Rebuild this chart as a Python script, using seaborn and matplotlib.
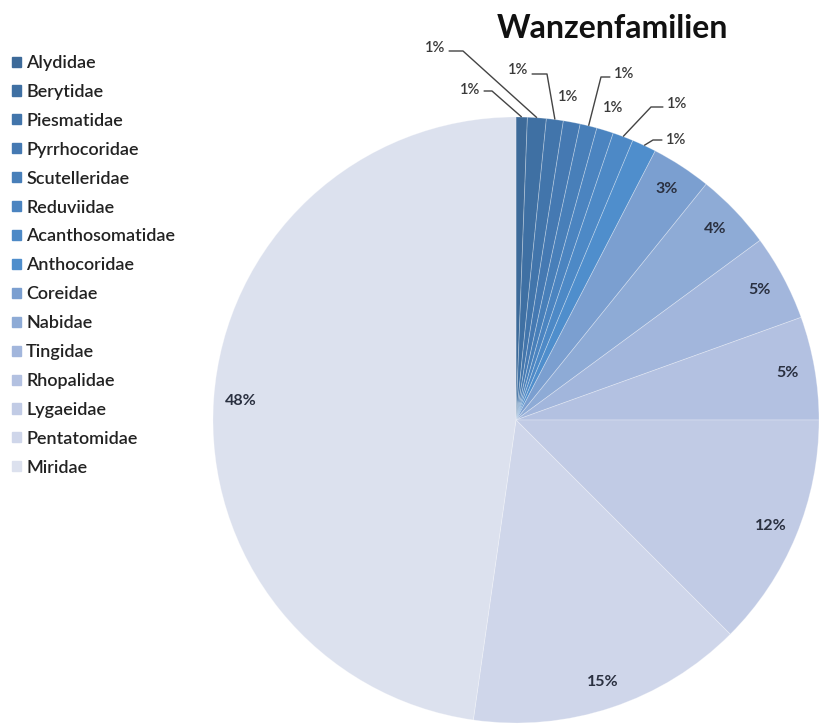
import matplotlib
matplotlib.use("Agg")
import matplotlib.pyplot as plt
import seaborn as sns
import numpy as np

families = ["Alydidae", "Berytidae", "Piesmatidae", "Pyrrhocoridae", "Scutelleridae",
            "Reduviidae", "Acanthosomatidae", "Anthocoridae", "Coreidae", "Nabidae",
            "Tingidae", "Rhopalidae", "Lygaeidae", "Pentatomidae", "Miridae"]
shares = [0.6, 1.0, 0.9, 0.9, 0.9, 0.9, 1.1, 1.3, 3.2, 4.1, 4.6, 5.5, 12.5, 14.75, 47.75]
colors = ["#3d6a99", "#3f70a3", "#4275ab", "#4579b2", "#487fb9", "#4b84c0", "#4d89c6",
          "#4f8ecc", "#7b9fd0", "#8eabd6", "#a2b6dc", "#b3c1e1", "#c1cbe5", "#cfd6ea", "#dce1ee"]
pct_labels = ["1%", "1%", "1%", "1%", "1%", "1%", "1%", "1%", "3%", "4%", "5%", "5%", "12%", "15%", "48%"]

# outside label placements (pixels) for the small slices; None -> no leader
outside_text_px = [(470, 90), (435, 48), (518, 70), (568, 97), (624, 74), (613, 108), (677, 104), (676, 140)]
leader_elbow_px = [(492, 91), (463, 51), (547, 74), None, (601, 77), None, (651, 107), (653, 140)]

sns.set_theme(style="white")
plt.rcParams['font.family'] = ['Lato', 'DejaVu Sans']

W, H = 819, 724
fig = plt.figure(figsize=(W / 100, H / 100), dpi=100)
cx, cy, R = 516, 420, 303
ax = fig.add_axes([(cx - R) / W, (H - cy - R) / H, 2 * R / W, 2 * R / H])

wedges, _ = ax.pie(shares, colors=colors, startangle=90, counterclock=False,
                   radius=1, wedgeprops=dict(edgecolor=(1, 1, 1, 0.3), linewidth=0.6))
ax.set_xlim(-1, 1)
ax.set_ylim(-1, 1)
ax.set_aspect("equal")
ax.axis("off")

def px2d(p):
    return ((p[0] - cx) / R, (cy - p[1]) / R)

for i, w in enumerate(wedges):
    mid = np.deg2rad((w.theta1 + w.theta2) / 2)
    if i < 8:
        tx, ty = px2d(outside_text_px[i])
        ax.text(tx, ty, pct_labels[i], ha="center", va="center", fontsize=10.5,
                fontweight="semibold", color="#3a3a3a", clip_on=False)
        if leader_elbow_px[i] is not None:
            ex, ey = px2d(leader_elbow_px[i])
            sx = tx + (0.045 if ex > tx else -0.045)
            ax.plot([sx, ex, np.cos(mid)], [ey, ey, np.sin(mid)], color="#444444", lw=1,
                    clip_on=False, solid_capstyle="butt")
    else:
        r = 0.91
        ax.text(r * np.cos(mid), r * np.sin(mid), pct_labels[i], ha="center", va="center",
                fontsize=11.5, fontweight="bold", color="#2a3040")

fig.text(612 / W, 1 - 28 / H, "Wanzenfamilien", ha="center", va="center",
         fontsize=23, fontweight="bold", color="#111111")

handles = [plt.Rectangle((0, 0), 1, 1, color=c) for c in colors]
leg = fig.legend(handles, families, loc="upper left", bbox_to_anchor=(12 / W, 1 - 55 / H),
                 frameon=False, fontsize=13, handlelength=0.48, handleheight=0.48,
                 handletextpad=0.3, labelspacing=0.715, borderaxespad=0, borderpad=0)
for t in leg.get_texts():
    t.set_color("#222222")
    t.set_fontweight("semibold")

fig.savefig("out.png", dpi=100)
